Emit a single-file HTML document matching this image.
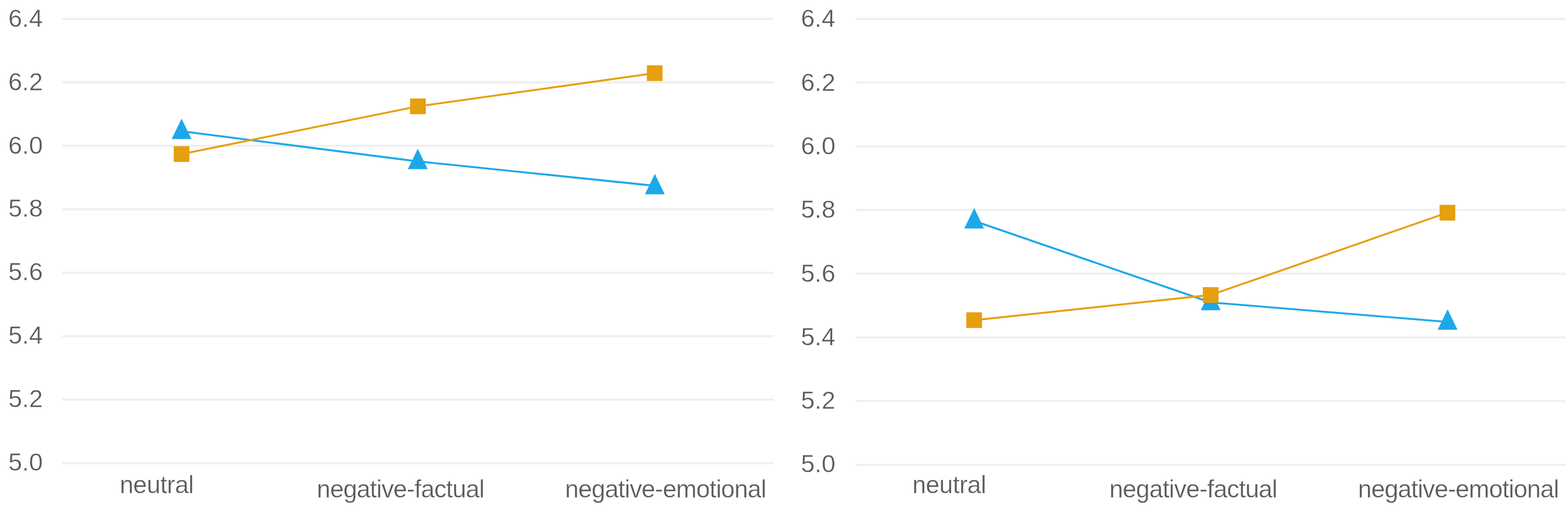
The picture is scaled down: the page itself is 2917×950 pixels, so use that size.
<!DOCTYPE html>
<html><head><meta charset="utf-8"><title>Line charts</title><style>
html,body{margin:0;padding:0;background:#fff;}
body{width:2917px;height:950px;overflow:hidden;}
svg{display:block;filter:blur(0.5px);}
.d{font-size:46.8px;}
text{font-family:"Liberation Sans",Arial,sans-serif;font-size:46px;fill:#5A5A5A;stroke:#fff;stroke-width:0.4px;}
</style></head><body>
<svg width="2917" height="950" viewBox="0 0 2917 950">
<rect width="2917" height="950" fill="#fff"/>
<rect x="116.0" y="33.20" width="1323.4" height="2.7" fill="#EDEDED"/><rect x="116.0" y="35.90" width="1323.4" height="1.8" fill="#F6F6F6"/>
<rect x="116.0" y="151.21" width="1323.4" height="2.7" fill="#EDEDED"/><rect x="116.0" y="153.91" width="1323.4" height="1.8" fill="#F6F6F6"/>
<rect x="116.0" y="269.22" width="1323.4" height="2.7" fill="#EDEDED"/><rect x="116.0" y="271.92" width="1323.4" height="1.8" fill="#F6F6F6"/>
<rect x="116.0" y="387.23" width="1323.4" height="2.7" fill="#EDEDED"/><rect x="116.0" y="389.93" width="1323.4" height="1.8" fill="#F6F6F6"/>
<rect x="116.0" y="505.24" width="1323.4" height="2.7" fill="#EDEDED"/><rect x="116.0" y="507.94" width="1323.4" height="1.8" fill="#F6F6F6"/>
<rect x="116.0" y="623.25" width="1323.4" height="2.7" fill="#EDEDED"/><rect x="116.0" y="625.95" width="1323.4" height="1.8" fill="#F6F6F6"/>
<rect x="116.0" y="741.26" width="1323.4" height="2.7" fill="#EDEDED"/><rect x="116.0" y="743.96" width="1323.4" height="1.8" fill="#F6F6F6"/>
<rect x="116.0" y="859.27" width="1323.4" height="2.7" fill="#EDEDED"/><rect x="116.0" y="861.97" width="1323.4" height="1.8" fill="#F6F6F6"/>
<text class="d" x="15.40" y="50.0" textLength="64.2" lengthAdjust="spacingAndGlyphs">6.4</text>
<text class="d" x="15.40" y="167.8" textLength="64.2" lengthAdjust="spacingAndGlyphs">6.2</text>
<text class="d" x="15.40" y="285.6" textLength="64.2" lengthAdjust="spacingAndGlyphs">6.0</text>
<text class="d" x="15.40" y="403.4" textLength="64.2" lengthAdjust="spacingAndGlyphs">5.8</text>
<text class="d" x="15.40" y="521.2" textLength="64.2" lengthAdjust="spacingAndGlyphs">5.6</text>
<text class="d" x="15.40" y="639.0" textLength="64.2" lengthAdjust="spacingAndGlyphs">5.4</text>
<text class="d" x="15.40" y="756.8" textLength="64.2" lengthAdjust="spacingAndGlyphs">5.2</text>
<text class="d" x="15.40" y="874.6" textLength="64.2" lengthAdjust="spacingAndGlyphs">5.0</text>
<text x="222.65" y="916.7" textLength="138.13" lengthAdjust="spacing">neutral</text>
<text x="589.35" y="924.6" textLength="312.13" lengthAdjust="spacing">negative-factual</text>
<text x="1050.95" y="924.6" textLength="374.93" lengthAdjust="spacing">negative-emotional</text>
<polyline points="337.8,244.0 777.2,300.0 1218.2,345.4" fill="none" stroke="#1DA8EA" stroke-width="3.6" stroke-linejoin="round"/>
<polygon points="337.8,220.5 356.2,258.5 319.4,258.5" fill="#1DA8EA"/>
<polygon points="777.2,276.4 795.6,314.4 758.8,314.4" fill="#1DA8EA"/>
<polygon points="1218.2,323.3 1236.6,361.3 1199.8,361.3" fill="#1DA8EA"/>
<polyline points="337.8,286.4 777.4,197.7 1218.0,136.0" fill="none" stroke="#E69F0E" stroke-width="3.6" stroke-linejoin="round"/>
<rect x="323.2" y="271.8" width="29.2" height="29.2" fill="#E69F0E"/>
<rect x="762.8" y="183.1" width="29.2" height="29.2" fill="#E69F0E"/>
<rect x="1203.4" y="121.4" width="29.2" height="29.2" fill="#E69F0E"/>
<rect x="1592.0" y="33.30" width="1320.8" height="2.7" fill="#EDEDED"/><rect x="1592.0" y="36.00" width="1320.8" height="1.8" fill="#F6F6F6"/>
<rect x="1592.0" y="151.73" width="1320.8" height="2.7" fill="#EDEDED"/><rect x="1592.0" y="154.43" width="1320.8" height="1.8" fill="#F6F6F6"/>
<rect x="1592.0" y="270.16" width="1320.8" height="2.7" fill="#EDEDED"/><rect x="1592.0" y="272.86" width="1320.8" height="1.8" fill="#F6F6F6"/>
<rect x="1592.0" y="388.59" width="1320.8" height="2.7" fill="#EDEDED"/><rect x="1592.0" y="391.29" width="1320.8" height="1.8" fill="#F6F6F6"/>
<rect x="1592.0" y="507.02" width="1320.8" height="2.7" fill="#EDEDED"/><rect x="1592.0" y="509.72" width="1320.8" height="1.8" fill="#F6F6F6"/>
<rect x="1592.0" y="625.45" width="1320.8" height="2.7" fill="#EDEDED"/><rect x="1592.0" y="628.15" width="1320.8" height="1.8" fill="#F6F6F6"/>
<rect x="1592.0" y="743.88" width="1320.8" height="2.7" fill="#EDEDED"/><rect x="1592.0" y="746.58" width="1320.8" height="1.8" fill="#F6F6F6"/>
<rect x="1592.0" y="862.31" width="1320.8" height="2.7" fill="#EDEDED"/><rect x="1592.0" y="865.01" width="1320.8" height="1.8" fill="#F6F6F6"/>
<text class="d" x="1489.90" y="50.3" textLength="64.2" lengthAdjust="spacingAndGlyphs">6.4</text>
<text class="d" x="1489.90" y="168.6" textLength="64.2" lengthAdjust="spacingAndGlyphs">6.2</text>
<text class="d" x="1489.90" y="286.9" textLength="64.2" lengthAdjust="spacingAndGlyphs">6.0</text>
<text class="d" x="1489.90" y="405.2" textLength="64.2" lengthAdjust="spacingAndGlyphs">5.8</text>
<text class="d" x="1489.90" y="523.5" textLength="64.2" lengthAdjust="spacingAndGlyphs">5.6</text>
<text class="d" x="1489.90" y="641.8" textLength="64.2" lengthAdjust="spacingAndGlyphs">5.4</text>
<text class="d" x="1489.90" y="760.1" textLength="64.2" lengthAdjust="spacingAndGlyphs">5.2</text>
<text class="d" x="1489.90" y="878.4" textLength="64.2" lengthAdjust="spacingAndGlyphs">5.0</text>
<text x="1697.15" y="916.7" textLength="137.73" lengthAdjust="spacing">neutral</text>
<text x="2063.65" y="924.6" textLength="312.83" lengthAdjust="spacing">negative-factual</text>
<text x="2526.35" y="924.6" textLength="374.13" lengthAdjust="spacing">negative-emotional</text>
<polyline points="1812.3,410.8 2252.3,562.2 2693.0,598.5" fill="none" stroke="#1DA8EA" stroke-width="3.6" stroke-linejoin="round"/>
<polygon points="1812.3,386.7 1830.7,424.7 1793.9,424.7" fill="#1DA8EA"/>
<polygon points="2252.3,538.7 2270.7,576.7 2233.9,576.7" fill="#1DA8EA"/>
<polygon points="2693.0,575.0 2711.4,613.0 2674.6,613.0" fill="#1DA8EA"/>
<polyline points="1812.2,595.2 2252.3,548.4 2692.7,395.4" fill="none" stroke="#E69F0E" stroke-width="3.6" stroke-linejoin="round"/>
<rect x="1797.6" y="580.6" width="29.2" height="29.2" fill="#E69F0E"/>
<rect x="2237.7" y="533.8" width="29.2" height="29.2" fill="#E69F0E"/>
<rect x="2678.1" y="380.8" width="29.2" height="29.2" fill="#E69F0E"/>
</svg>
</body></html>
